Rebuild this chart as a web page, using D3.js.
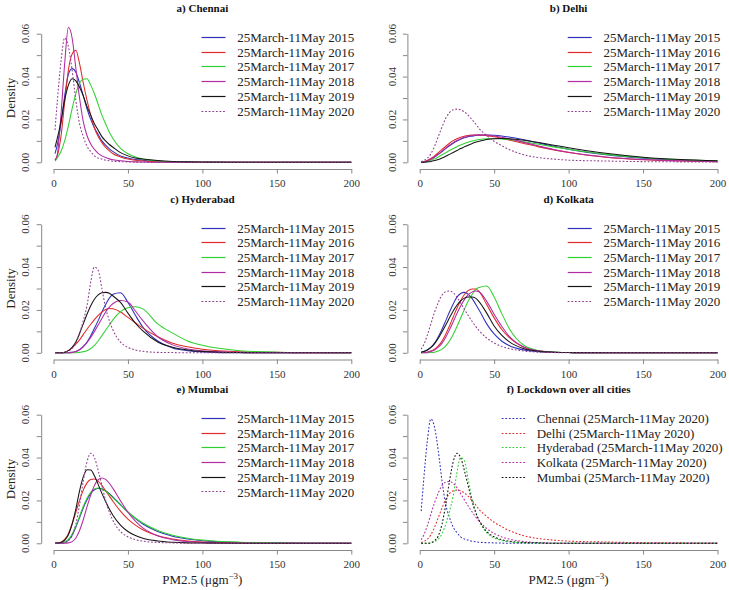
<!DOCTYPE html>
<html><head><meta charset="utf-8">
<script src="https://cdn.jsdelivr.net/npm/d3@7"></script>
<style>body{margin:0;background:#fff}svg{display:block}text{font-family:"Liberation Serif","Times New Roman",serif}</style>
</head><body><svg id="c" width="729" height="590"></svg>
<script>
// x grid (PM2.5) at which densities were read
const xs = [1,2.5,5,7.5,10,12.5,15,17.5,20,22.5,25,27.5,30,32.5,35,37.5,40,45,50,55,60,70,80,90,100,125,150,175,200];
const years = ["2015","2016","2017","2018","2019","2020"];
const xTicks = [0,50,100,150,200];
const yTicks = [0,0.01,0.02,0.03,0.04,0.05,0.06];
const yLabels = ["0.00","","0.02","","0.04","","0.06"];

// Chennai: 2015..2020
const chennai = [
 [.004,.008,.018,.031,.041,.0437,.042,.037,.031,.025,.020,.016,.013,.010,.008,.0063,.005,.003,.002,.0013,.001,.0005,.0002,.0001,0,0,0,0,0],
 [.001,.003,.012,.028,.043,.0505,.0523,.046,.037,.029,.022,.016,.012,.0092,.007,.0053,.004,.0025,.0015,.001,.0006,.0002,.0001,0,0,0,0,0,0],
 [.0005,.002,.005,.010,.017,.025,.032,.037,.0388,.039,.036,.032,.027,.022,.018,.014,.011,.0065,.004,.0025,.0015,.0006,.0002,.0001,0,0,0,0,0],
 [.001,.0034,.022,.046,.063,.058,.044,.030,.019,.0125,.0085,.006,.0042,.003,.0022,.0016,.0012,.0007,.0004,.0002,.0001,0,0,0,0,0,0,0,0],
 [.007,.011,.019,.029,.036,.039,.038,.035,.031,.026,.022,.018,.015,.012,.010,.0083,.007,.0045,.003,.002,.0015,.0008,.0004,.0002,.0001,0,0,0,0],
 [.015,.028,.047,.058,.054,.043,.029,.018,.012,.0075,.005,.003,.002,.0015,.001,.0007,.0005,.0003,.0002,.0001,0,0,0,0,0,0,0,0,0]
];
const delhi = [
 [0,.0002,.0007,.0015,.0025,.0037,.005,.0064,.0077,.0089,.0099,.0107,.0114,.0119,.0122,.0125,.0126,.0127,.0126,.0123,.0118,.0105,.009,.0075,.0061,.0035,.0019,.001,.0005],
 [0,.0002,.0008,.0018,.003,.0045,.006,.0075,.0089,.0101,.011,.0117,.0122,.0125,.0127,.0127,.0127,.0124,.0119,.0112,.0104,.0088,.0072,.0058,.0046,.0024,.0012,.0006,.0003],
 [0,.0001,.0004,.0009,.0016,.0025,.0035,.0045,.0055,.0064,.0073,.0081,.0088,.0094,.0099,.0103,.0106,.011,.0111,.0109,.0106,.0096,.0084,.0072,.0061,.0037,.0021,.0012,.0007],
 [0,.0001,.0006,.0014,.0025,.0038,.0052,.0066,.008,.0092,.0102,.011,.0117,.0122,.0125,.0127,.0128,.0127,.0123,.0117,.011,.0093,.0076,.006,.0047,.0025,.0013,.0007,.0003],
 [0,0,.0002,.0004,.0008,.0013,.002,.0028,.0037,.0046,.0055,.0064,.0072,.008,.0087,.0093,.0098,.0106,.011,.0111,.011,.0103,.0092,.008,.0068,.0042,.0024,.0013,.0007],
 [.0003,.0008,.0018,.004,.0075,.012,.0165,.0205,.0232,.0245,.0248,.0245,.0235,.022,.020,.018,.0157,.0125,.0098,.0078,.006,.0035,.0022,.0015,.001,.0006,.0003,.0002,.0001]
];
const hyderabad = [
 [0,0,0,0,0,.0002,.0006,.0015,.003,.005,.008,.0115,.015,.019,.0225,.0255,.0273,.028,.0235,.0175,.012,.0055,.0022,.001,.0004,0,0,0,0],
 [0,0,0,.0003,.001,.0023,.004,.006,.0085,.011,.0133,.0155,.0175,.019,.0202,.0207,.0205,.019,.0165,.014,.0115,.0075,.0045,.0028,.0017,.0005,.0002,0,0],
 [0,0,0,0,0,0,0,.0002,.0005,.001,.002,.0035,.0055,.008,.0105,.013,.0155,.0192,.021,.0215,.0205,.0135,.0092,.0055,.0035,.001,.0003,.0001,0],
 [0,0,0,0,0,.0002,.0006,.0014,.0028,.0048,.0072,.010,.013,.016,.019,.0213,.023,.0244,.0237,.0195,.015,.0075,.0037,.0018,.0009,.0002,0,0,0],
 [0,0,0,.0003,.001,.0025,.005,.009,.0135,.018,.022,.025,.027,.028,.0282,.0278,.0265,.0235,.0185,.0138,.0102,.005,.0026,.0013,.0006,.0001,0,0,0],
 [0,0,0,.0002,.0008,.002,.0045,.009,.015,.022,.033,.040,.0385,.030,.021,.015,.0105,.005,.0025,.0013,.0007,.0002,.0001,0,0,0,0,0,0]
];
const kolkata = [
 [.0002,.0005,.0012,.0025,.0045,.0075,.011,.015,.019,.0228,.026,.0277,.0282,.0274,.0255,.0228,.0198,.0135,.0088,.0055,.0034,.0013,.0005,.0002,.0001,0,0,0,0],
 [0,.0001,.0003,.0008,.0017,.0032,.0055,.0087,.0125,.0167,.0208,.0243,.0272,.029,.0298,.0298,.0285,.0225,.0163,.011,.0072,.0025,.0008,.0003,.0001,0,0,0,0],
 [0,0,0,.0001,.0003,.0008,.0017,.0032,.0055,.0085,.0122,.0162,.0202,.024,.027,.0295,.0305,.0312,.026,.0185,.0115,.0035,.001,.0004,.0001,0,0,0,0],
 [0,0,.0002,.0006,.0013,.0026,.0045,.0073,.0107,.0145,.0183,.0218,.0248,.027,.0283,.0288,.0284,.024,.018,.0125,.0078,.0027,.0009,.0003,.0001,0,0,0,0],
 [.0003,.0006,.0013,.0025,.0043,.0068,.0098,.013,.0163,.0195,.0222,.0242,.0255,.026,.026,.0255,.0238,.0185,.0125,.0082,.0052,.0019,.0007,.0003,.0001,0,0,0,0],
 [.0017,.0035,.008,.0135,.019,.0235,.027,.0285,.0288,.028,.026,.0232,.0203,.0175,.0148,.0124,.0103,.0069,.0046,.003,.002,.0008,.0003,.0001,0,0,0,0,0]
];
const mumbai = [
 [0,0,.0001,.0005,.0015,.0038,.0075,.012,.0165,.0203,.0233,.025,.0256,.0254,.0245,.0232,.0216,.018,.0145,.0115,.009,.0055,.0033,.002,.0012,.0004,.0001,0,0],
 [0,.0001,.0005,.0018,.0045,.009,.0145,.020,.0248,.0282,.0298,.030,.029,.027,.0245,.022,.0195,.015,.0113,.0085,.0063,.0035,.002,.0011,.0006,.0002,0,0,0],
 [0,0,.0001,.0006,.0018,.0043,.008,.0127,.0172,.021,.0238,.0254,.0258,.0253,.0242,.0228,.0212,.0178,.0146,.0118,.0095,.006,.0038,.0024,.0015,.0005,.0002,0,0],
 [0,0,0,0,.0002,.0008,.0025,.006,.011,.017,.0225,.027,.0297,.0305,.0298,.028,.0255,.0198,.0145,.0103,.0072,.0035,.0017,.0008,.0004,.0001,0,0,0],
 [0,.0001,.0004,.0015,.004,.009,.016,.0245,.031,.0343,.0342,.0315,.0275,.0233,.0195,.016,.013,.0085,.0055,.0036,.0024,.0011,.0005,.0002,.0001,0,0,0,0],
 [0,0,0,.0003,.0012,.0035,.009,.018,.029,.038,.042,.040,.034,.027,.020,.0145,.0105,.0055,.003,.0017,.001,.0004,.0002,0,0,0,0,0,0]
];
const cities = ["Chennai","Delhi","Hyderabad","Kolkata","Mumbai"];

const yearColors = ["#3030bb","#e02a2a","#30d030","#b02ca2","#151515","#8e3c8e"];
const cityColors = ["#3030bb","#e02a2a","#30d030","#b02ca2","#151515"];

const panels = [
 {title:"a) Chennai", data:chennai},
 {title:"b) Delhi", data:delhi},
 {title:"c) Hyderabad", data:hyderabad},
 {title:"d) Kolkata", data:kolkata},
 {title:"e) Mumbai", data:mumbai},
 {title:"f) Lockdown over all cities", data:[chennai[5],delhi[5],hyderabad[5],kolkata[5],mumbai[5]], lockdown:true}
];

const svg = d3.select("#c");
const colX = [53.5, 419.7], plotW = 297.8;
const rowY = [162.3, 352.8, 543.3], plotH = 128.6;

panels.forEach((p, i) => {
  const col = i % 2, row = Math.floor(i / 2);
  const x0 = colX[col], y0 = rowY[row];
  const x = d3.scaleLinear().domain([0,200]).range([x0, x0+plotW]);
  const y = d3.scaleLinear().domain([0,0.06]).range([y0, y0-plotH]);
  const g = svg.append("g");

  const gx = g.append("g").attr("transform", `translate(0,${y0+6.7})`)
    .call(d3.axisBottom(x).tickValues(xTicks).tickSize(4.5).tickSizeOuter(0).tickPadding(6));
  gx.selectAll("path,line").attr("stroke","#888");
  gx.selectAll("text").attr("font-family","Liberation Serif").attr("font-size",11).attr("fill","#333");

  const ax = x0 - 12.3;
  const gy = g.append("g").attr("transform", `translate(${ax},0)`)
    .call(d3.axisLeft(y).tickValues(yTicks).tickSize(4.5).tickSizeOuter(0).tickFormat(""));
  gy.selectAll("path,line").attr("stroke","#888");
  yTicks.forEach((v, k) => {
    if (!yLabels[k]) return;
    g.append("text").attr("transform", `translate(${x0-28},${y(v)}) rotate(-90)`)
      .attr("text-anchor","middle").attr("dy","0.35em")
      .attr("font-size",11).attr("fill","#333").text(yLabels[k]);
  });

  g.append("text").attr("x", x0+plotW/2).attr("y", y0-plotH-25.4).attr("dy","0.35em")
    .attr("text-anchor","middle").attr("font-weight","bold").attr("font-size",11).attr("fill","#111").text(p.title);

  if (col === 0) {
    g.append("text").attr("transform", `translate(10,${y0-plotH/2}) rotate(-90)`)
      .attr("text-anchor","middle").attr("dy","0.35em").attr("font-size",13).attr("fill","#222").text("Density");
  }
  if (row === 2) {
    const t = g.append("text").attr("x", x0+plotW/2).attr("y", 584).attr("text-anchor","middle")
      .attr("font-size",13).attr("fill","#222");
    t.append("tspan").text("PM2.5 (μgm");
    t.append("tspan").attr("dy",-5).attr("font-size",9).text("−3");
    t.append("tspan").attr("dy",5).text(")");
  }

  const line = d3.line().x(d => x(d[0])).y(d => y(d[1])).curve(d3.curveMonotoneX);
  const series = p.data.map((arr, k) => ({
    pts: xs.map((xv, j) => [xv, arr[j]]),
    color: p.lockdown ? cityColors[k] : yearColors[k],
    dotted: p.lockdown ? true : k === 5,
    label: p.lockdown ? `${cities[k]} (25March-11May 2020)` : `25March-11May ${years[k]}`
  }));

  series.forEach(s => {
    g.append("path").attr("d", line(s.pts)).attr("fill","none")
      .attr("stroke", s.color).attr("stroke-width", 1.05)
      .attr("stroke-dasharray", s.dotted ? "1.8,1.8" : null);
  });

  const lx0 = p.lockdown ? x0+82 : x0+148, lx1 = lx0 + 24, tx = p.lockdown ? x0+117 : x0+183.8;
  series.forEach((s, k) => {
    const ly = y0 - plotH + 3.8 + k*14.7;
    const sy = Math.floor(ly) + 0.5;
    g.append("line").attr("x1", lx0).attr("x2", lx1).attr("y1", sy).attr("y2", sy)
      .attr("stroke", s.color).attr("stroke-width", 1.2).attr("stroke-dasharray", s.dotted ? "1.8,1.8" : null);
    g.append("text").attr("x", tx).attr("y", ly).attr("dy","0.35em").attr("font-size",13)
      .attr("fill","#222").text(s.label);
  });
});
</script></body></html>
